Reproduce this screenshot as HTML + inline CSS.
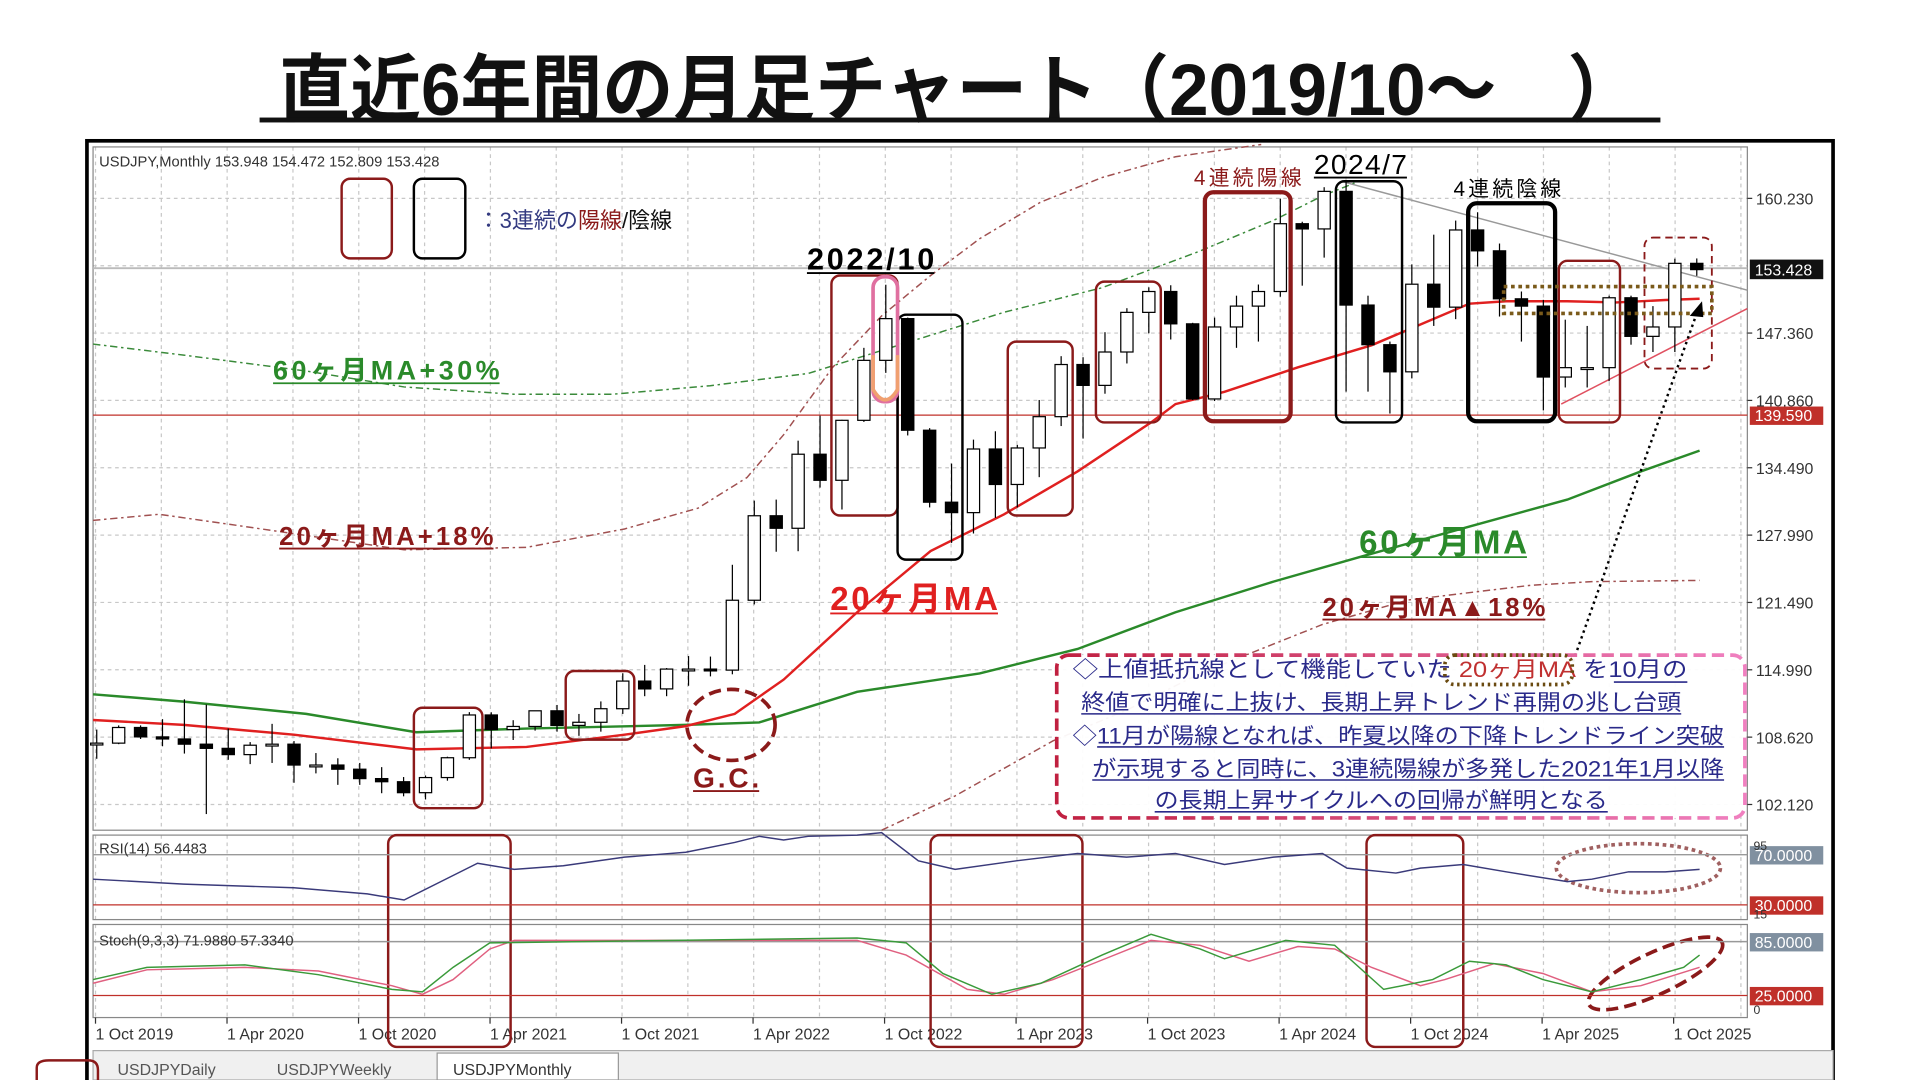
<!DOCTYPE html>
<html><head><meta charset="utf-8"><style>
html,body{margin:0;padding:0;background:#fff;overflow:hidden}
svg{display:block}
text{font-family:"Liberation Sans","Noto Sans CJK JP",sans-serif}
</style></head><body>
<svg id="s" width="1920" height="1080" viewBox="0 0 1568 882" preserveAspectRatio="none" xmlns="http://www.w3.org/2000/svg">
<rect width="1568" height="882" fill="#fff"/>
<text x="783" y="94" text-anchor="middle" font-size="60" font-weight="bold" fill="#111" textLength="1110" lengthAdjust="spacingAndGlyphs">直近6年間の月足チャート（2019/10～　）</text>
<rect x="212" y="96" width="1144" height="4" fill="#111"/>
<rect x="71" y="115" width="1426" height="770" fill="#fff" stroke="#000" stroke-width="3"/>
<g id="grid" stroke="#c8c8c8" stroke-width="1" stroke-dasharray="3,3"></g>
<rect x="76" y="120" width="1351" height="558" fill="none" stroke="#888"/>
<rect x="76" y="682" width="1351" height="69" fill="none" stroke="#888"/>
<rect x="76" y="755" width="1351" height="76" fill="none" stroke="#888"/>
<rect x="76" y="858" width="1421" height="24" fill="#f0f0f0" stroke="#aaa"/>
<g font-size="13" fill="#555">
<text x="96" y="878">USDJPYDaily</text><text x="226" y="878">USDJPYWeekly</text>
<rect x="357" y="860" width="148" height="22" fill="#fff" stroke="#999"/><text x="370" y="878" fill="#333">USDJPYMonthly</text>
</g>
<path d="M30,882 V872 Q30,866 40,866 H72 Q80,866 80,874 V882" fill="none" stroke="#8b1a1a" stroke-width="2"/>
<g id="g" ></g>
<text x="81" y="136" font-size="12" fill="#333">USDJPY,Monthly  153.948 154.472 152.809 153.428</text>
</svg>
<script>
const S=document.getElementById('s'),G=document.getElementById('g'),GR=document.getElementById('grid');
const NS="http://www.w3.org/2000/svg";
function el(t,a,p,txt){const e=document.createElementNS(NS,t);for(const k in a)e.setAttribute(k,a[k]);if(txt!==undefined)e.textContent=txt;(p||G).appendChild(e);return e;}
const Y=p=>162+(160.23-p)*8.518;
const X=i=>79+17.9*i;
for(let x=78;x<1427;x+=53.75){el('line',{x1:x,y1:120,x2:x,y2:678},GR);el('line',{x1:x,y1:682,x2:x,y2:751},GR);el('line',{x1:x,y1:755,x2:x,y2:831},GR);}
[162,217,272,327,382,437,492,547,602,657].forEach(y=>el('line',{x1:76,y1:y,x2:1427,y2:y},GR));
el('line',{x1:76,y1:219,x2:1427,y2:219,stroke:'#bbb','stroke-width':1.5});
const pl=[[162,'160.230'],[272,'147.360'],[327,'140.860'],[382,'134.490'],[437,'127.990'],[492,'121.490'],[547,'114.990'],[602,'108.620'],[657,'102.120']];
pl.forEach(([y,t])=>{el('line',{x1:1427,y1:y,x2:1431,y2:y,stroke:'#333'});el('text',{x:1434,y:y+5,'font-size':13,fill:'#333'},G,t);});
el('rect',{x:1429,y:212,width:60,height:16,fill:'#111'});el('text',{x:1433,y:225,'font-size':13,fill:'#fff'},G,'153.428');
el('rect',{x:1429,y:332,width:60,height:15,fill:'#c0302a'});el('text',{x:1433,y:344,'font-size':13,fill:'#fff'},G,'139.590');
const xl=['1 Oct 2019','1 Apr 2020','1 Oct 2020','1 Apr 2021','1 Oct 2021','1 Apr 2022','1 Oct 2022','1 Apr 2023','1 Oct 2023','1 Apr 2024','1 Oct 2024','1 Apr 2025','1 Oct 2025'];
xl.forEach((t,i)=>{const x=78+107.4*i;el('line',{x1:x,y1:831,x2:x,y2:836,stroke:'#333'});el('text',{x:x,y:849,'font-size':13,fill:'#333'},G,t);});
el('line',{x1:76,y1:339,x2:1427,y2:339,stroke:'#c0302a','stroke-width':1});
function pl2(pts,a){el('polyline',Object.assign({points:pts,fill:'none'},a));}
pl2('76,281 150,290 250,303 330,316 420,322 500,322 580,315 660,305 740,280 820,255 900,235 980,205 1040,180 1080,160 1110,148',{stroke:'#3a8a3a','stroke-width':1.2,'stroke-dasharray':'6,3,2,3'});
pl2('76,425 130,420 200,430 330,449 430,447 510,432 570,415 610,390 640,355 680,300 720,258 760,225 800,195 850,165 900,145 960,128 1030,118',{stroke:'#a05050','stroke-width':1.2,'stroke-dasharray':'6,3,2,3'});
pl2('720,678 780,650 860,605 920,580 980,550 1080,510 1150,490 1250,478 1300,475 1388,474',{stroke:'#a05050','stroke-width':1.2,'stroke-dasharray':'6,3,2,3'});
pl2('76,567 150,573 250,583 340,598 430,595 560,592 620,590 700,565 800,550 880,530 960,500 1040,475 1110,455 1200,430 1280,408 1340,385 1388,368',{stroke:'#2a8a2a','stroke-width':2});
pl2('76,588 150,592 240,600 340,612 430,610 510,600 560,593 600,583 640,555 700,500 760,450 820,420 880,385 940,345 960,330 1000,320 1060,300 1120,282 1160,265 1200,248 1230,246 1280,246 1320,247 1360,245 1388,244',{stroke:'#e02020','stroke-width':2});
el('line',{x1:1095,y1:148,x2:1427,y2:237,stroke:'#999','stroke-width':1.2});
el('line',{x1:1275,y1:330,x2:1427,y2:252,stroke:'#e05060','stroke-width':1.2});
const D=[[108.0,109.3,106.5,108.0],[108.0,109.7,107.9,109.5],[109.5,109.7,108.4,108.6],[108.6,110.3,107.7,108.4],[108.4,112.2,107.0,107.9],[107.9,111.7,101.2,107.5],[107.5,109.4,106.4,106.9],[106.9,108.1,105.99,107.8],[107.8,109.85,106.1,107.9],[107.9,108.2,104.2,105.9],[105.9,107.05,105.1,105.9],[105.9,106.55,104.0,105.5],[105.5,106.1,104.0,104.6],[104.6,105.7,103.2,104.3],[104.3,104.75,102.9,103.25],[103.25,104.9,102.6,104.7],[104.7,106.7,104.4,106.6],[106.6,110.97,106.4,110.7],[110.7,110.96,107.5,109.3],[109.3,110.2,108.3,109.6],[109.6,111.1,109.2,111.1],[111.1,111.66,109.1,109.7],[109.7,110.8,108.7,110.0],[110.0,112.0,109.1,111.3],[111.3,114.7,110.8,113.95],[113.95,115.5,112.5,113.2],[113.2,115.2,112.5,115.1],[115.1,116.35,113.5,115.1],[115.1,116.3,114.4,115.0],[115.0,125.1,114.6,121.7],[121.7,131.25,121.3,129.8],[129.8,131.35,126.35,128.6],[128.6,137.0,126.4,135.7],[135.7,139.4,132.5,133.2],[133.2,139.0,130.4,138.95],[138.95,145.9,138.8,144.7],[144.7,151.95,143.5,148.7],[148.7,148.8,137.5,138.0],[138.0,138.2,130.6,131.1],[131.1,134.8,127.2,130.1],[130.1,137.1,128.1,136.2],[136.2,137.9,129.6,132.8],[132.8,136.6,130.6,136.3],[136.3,140.9,133.5,139.3],[139.3,145.1,138.4,144.3],[144.3,145.0,137.2,142.3],[142.3,147.4,141.5,145.5],[145.5,149.7,144.4,149.3],[149.3,151.7,147.3,151.3],[151.3,151.9,146.7,148.2],[148.2,148.3,140.9,141.0],[141.0,148.8,140.8,147.9],[147.9,150.9,145.9,149.9],[149.9,151.97,146.5,151.3],[151.3,160.2,150.8,157.8],[157.8,157.99,151.86,157.3],[157.3,161.3,154.55,160.9],[160.9,161.95,141.7,150.0],[150.0,150.9,141.7,146.2],[146.2,146.5,139.6,143.6],[143.6,153.9,142.97,152.0],[152.0,156.75,148.0,149.8],[149.8,158.1,148.65,157.2],[157.2,158.9,153.7,155.2],[155.2,155.9,148.9,150.6],[150.6,151.3,146.5,149.9],[149.9,150.5,139.9,143.1],[143.1,148.6,142.1,144.0],[144.0,148.0,142.1,144.0],[144.0,150.9,142.7,150.7],[150.7,150.9,146.2,147.0],[147.0,149.9,145.5,147.9],[147.9,154.45,145.5,154.0],[154.0,154.47,152.8,153.4]];
D.forEach((d,i)=>{const x=X(i);const [o,h,l,c]=d;el('line',{x1:x,y1:Y(h),x2:x,y2:Y(l),stroke:'#000'});
const t=Math.min(Y(o),Y(c)),b=Math.max(Y(o),Y(c));el('rect',{x:x-5,y:t,width:10,height:Math.max(1.5,b-t),fill:c>=o?'#fff':'#000',stroke:'#000'});});
function rb(x1,y1,x2,y2,col,w,extra){el('rect',Object.assign({x:x1,y:y1,width:x2-x1,height:y2-y1,rx:7,fill:'none',stroke:col,'stroke-width':w||2},extra||{}));}
const BR='#8b1a1a';
rb(279,146,320,211,BR,2);rb(338,146,380,211,'#000',2);
rb(338,578,394,660,BR);rb(462,548,518,604,BR);rb(679,225,733,421,BR);
rb(733,257,786,457,'#000');rb(823,279,876,421,BR);rb(895,230,948,345,BR);
rb(984,157,1054,344,BR,3.5);rb(1091,148,1145,345,'#000');rb(1199,166,1270,344,'#000',3.5);
rb(1273,213,1323,345,BR);rb(1343,194,1398,301,BR,1.5,{'stroke-dasharray':'6,4'});
el('rect',{x:713,y:226,width:20,height:102,rx:9,fill:'none',stroke:'#e070a0','stroke-width':3});
el('path',{d:'M713,290 V318 Q723,335 733,318 V290',fill:'none',stroke:'#f0a070','stroke-width':3});
el('rect',{x:1228,y:234,width:170,height:22,fill:'none',stroke:'#7a5a1a','stroke-width':3,'stroke-dasharray':'3,3'});
el('ellipse',{cx:597,cy:592,rx:36,ry:29,fill:'none',stroke:BR,'stroke-width':3,'stroke-dasharray':'10,5'});
rb(317,682,417,855,BR,2);rb(760,682,884,855,BR,2);rb(1116,682,1195,855,BR,2);
el('ellipse',{cx:1338,cy:709,rx:67,ry:20,fill:'none',stroke:'#a06060','stroke-width':3,'stroke-dasharray':'3,3'});
el('ellipse',{cx:1352,cy:795,rx:60,ry:17,fill:'none',stroke:BR,'stroke-width':3,'stroke-dasharray':'10,5',transform:'rotate(-25 1352 795)'});
el('line',{x1:1283,y1:545,x2:1386,y2:255,stroke:'#000','stroke-width':2,'stroke-dasharray':'2,3'});
el('path',{d:'M1390,246 L1380,258 L1391,259 Z',fill:'#000'});
function tx(x,y,s,fs,col,extra,ul){const e=el('text',Object.assign({x:x,y:y,'font-size':fs,fill:col},extra||{}),G,s);if(ul){const w=ul;el('line',{x1:x,y1:y+3,x2:x+w,y2:y+3,stroke:col,'stroke-width':1.5});}return e;}
const leg=el('text',{x:390,y:186,'font-size':18,fill:'#333a80'});
[['：3連続の','#333a80'],['陽線','#8b1a1a'],['/陰線','#111']].forEach(([t,c])=>{el('tspan',{fill:c},leg,t);});
tx(659,220,'2022/10',25,'#000',{'font-weight':'bold',textLength:104},104);
tx(1073,142,'2024/7',23,'#000',{textLength:76},76);
tx(975,151,'4連続陽線',17,'#8b1a1a',{textLength:88});
tx(1187,160,'4連続陰線',17,'#000',{textLength:88});
tx(223,310,'60ヶ月MA+30%',22,'#2a8a2a',{'font-weight':'bold',textLength:185},185);
tx(228,445,'20ヶ月MA+18%',21,'#8b1a1a',{'font-weight':'bold',textLength:175},175);
tx(678,498,'20ヶ月MA',27,'#e02020',{'font-weight':'bold',textLength:137},137);
tx(1110,452,'60ヶ月MA',27,'#2a8a2a',{'font-weight':'bold',textLength:137},137);
tx(1080,503,'20ヶ月MA▲18%',21,'#8b1a1a',{'font-weight':'bold',textLength:182},182);
tx(566,643,'G.C.',23,'#8b1a1a',{'font-weight':'bold',textLength:54},54);
const defs=el('defs',{},S);const lg=el('linearGradient',{id:'lg',x1:0,x2:1,y1:0,y2:0},defs);
el('stop',{offset:'0','stop-color':'#c02040'},lg);el('stop',{offset:'1','stop-color':'#f080c0'},lg);
el('rect',{x:863,y:535,width:562,height:133,rx:10,fill:'#fff','fill-opacity':0.95,stroke:'url(#lg)','stroke-width':3,'stroke-dasharray':'10,5'});
const NV='#2a2a8a';
const l1=el('text',{x:876,y:553,'font-size':18,fill:NV,textLength:502,lengthAdjust:'spacingAndGlyphs'});
el('tspan',{},l1,'◇上値抵抗線として機能していた ');el('tspan',{fill:'#c03030'},l1,'20ヶ月MA');el('tspan',{},l1,'  を10月の');
el('rect',{x:1180,y:535,width:104,height:24,rx:8,fill:'none',stroke:'#6a4a10','stroke-width':3,'stroke-dasharray':'2,3'});
el('line',{x1:1318,y1:557,x2:1378,y2:557,stroke:NV,'stroke-width':1.3});
const ann=[[883,580,'終値で明確に上抜け、長期上昇トレンド再開の兆し台頭',490],[876,607,'◇11月が陽線となれば、昨夏以降の下降トレンドライン突破',532],[892,634,'が示現すると同時に、3連続陽線が多発した2021年1月以降',516],[943,660,'の長期上昇サイクルへの回帰が鮮明となる',370]];
ann.forEach(([x,y,t,w])=>{el('text',{x:x,y:y,'font-size':18,fill:NV,textLength:w,lengthAdjust:'spacingAndGlyphs'},G,t);el('line',{x1:x+(t[0]=='◇'?20:0),y1:y+3,x2:x+w,y2:y+3,stroke:NV,'stroke-width':1.3});});
el('line',{x1:76,y1:698,x2:1427,y2:698,stroke:'#999','stroke-width':1.2});
el('line',{x1:76,y1:739,x2:1427,y2:739,stroke:'#c0302a','stroke-width':1});
tx(81,697,'RSI(14) 56.4483',12,'#333');
el('rect',{x:1429,y:691,width:60,height:15,fill:'#8090a0'});tx(1433,703,'70.0000',13,'#fff');
el('rect',{x:1429,y:732,width:60,height:15,fill:'#c0302a'});tx(1433,744,'30.0000',13,'#fff');
tx(1432,694,'95',10,'#333');tx(1432,750,'15',10,'#333');
pl2('76,718 150,722 240,725 300,730 330,735 360,720 390,705 420,710 460,707 510,700 560,696 600,688 620,683 640,686 660,683 700,682 720,680 750,703 780,710 830,703 880,697 920,700 960,697 1000,706 1040,700 1080,697 1100,709 1140,713 1160,709 1195,706 1230,712 1280,720 1300,718 1330,712 1360,712 1388,710',{stroke:'#3a3a7a','stroke-width':1.2});
el('line',{x1:76,y1:769,x2:1427,y2:769,stroke:'#999','stroke-width':1.2});
el('line',{x1:76,y1:813,x2:1427,y2:813,stroke:'#c0302a','stroke-width':1});
tx(81,772,'Stoch(9,3,3) 71.9880 57.3340',12,'#333');
el('rect',{x:1429,y:762,width:60,height:15,fill:'#8090a0'});tx(1433,774,'85.0000',13,'#fff');
el('rect',{x:1429,y:806,width:60,height:15,fill:'#c0302a'});tx(1433,818,'25.0000',13,'#fff');
tx(1432,828,'0',10,'#333');
pl2('76,803 120,792 200,790 260,793 320,805 345,812 370,800 400,775 420,768 700,768 740,780 790,808 820,812 860,800 900,784 940,768 980,772 1020,785 1060,773 1090,775 1120,790 1160,805 1180,800 1220,787 1260,795 1300,810 1340,805 1388,790',{stroke:'#e06080','stroke-width':1.2});
pl2('76,800 120,790 200,788 260,796 320,808 345,810 370,790 400,770 700,766 740,770 770,795 810,812 850,803 900,780 940,763 980,775 1000,783 1050,768 1090,772 1130,808 1170,800 1200,785 1230,788 1260,800 1300,810 1340,800 1375,790 1388,780',{stroke:'#3a9a3a','stroke-width':1.2});
</script>
</body></html>
